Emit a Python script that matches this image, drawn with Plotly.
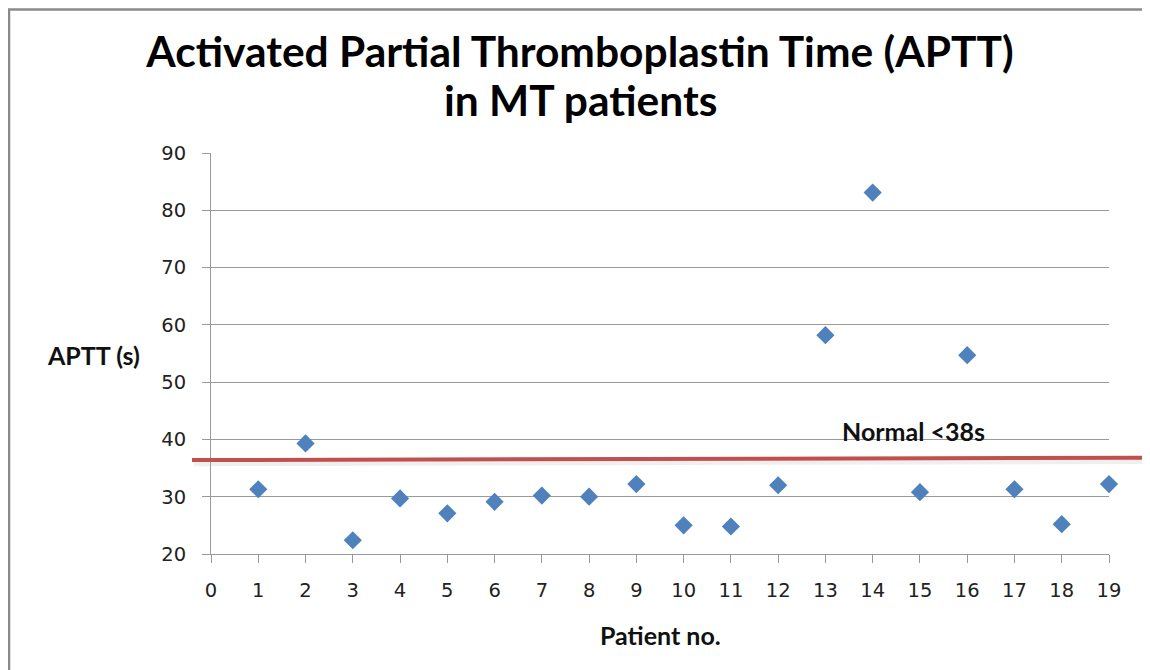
import plotly.graph_objects as go

patients = list(range(1, 20))
aptt = [31.3, 39.3, 22.4, 29.7, 27.1, 29.1, 30.2, 30.0, 32.2, 25.0,
        24.8, 32.0, 58.2, 83.1, 30.8, 54.7, 31.3, 25.2, 32.2]
normal_line = [36.4, 36.8]  # drawn reference line (left end, right end)
normal_label = "Normal <38s"
x_ticks = list(range(0, 20))
y_ticks = list(range(20, 91, 10))

title_line1 = "Activated Partial Thromboplastin Time (APTT)"
title_line2 = "in MT patients"

# the page body has an 8px margin, so work in screen px and subtract it
OFF = 8
W, H = 1150 - OFF, 670 - OFF
PL, PR, PT, PB = 211, 1109, 153, 554  # plot area in screen px
L, T = PL - OFF, PT - OFF
R, B = W - (PR - OFF), H - (PB - OFF)
pw, ph = PR - PL, PB - PT

def px_x(p):
    return (p - PL) / pw

def px_y(p):
    return (PB - p) / ph

fig = go.Figure()
fig.add_trace(go.Scatter(
    x=patients, y=aptt, mode="markers",
    marker=dict(symbol="diamond", size=14, color="#4F81BD"),
    cliponaxis=False, showlegend=False,
))

grid = "#9a9a9a"
tick_font = dict(family="DejaVu Sans", size=19.5, color="#222")
fig.update_xaxes(
    range=[0, 19], tickvals=x_ticks, showgrid=False,
    showline=True, linecolor=grid, linewidth=1,
    ticks="outside", ticklen=8, tickcolor=grid,
    tickfont=tick_font, ticklabelstandoff=11, zeroline=False,
)
fig.update_yaxes(
    range=[20, 90], tickvals=y_ticks, showgrid=True, gridcolor=grid, gridwidth=1,
    showline=True, linecolor=grid, linewidth=1,
    ticks="outside", ticklen=8, tickcolor=grid,
    tickfont=tick_font, ticklabelstandoff=12, zeroline=False,
)

shapes = [
    # outer chart border
    dict(type="rect", xref="paper", yref="paper",
         x0=px_x(9), x1=px_x(1148), y0=px_y(680), y1=px_y(9.5),
         line=dict(color="#8a8a8a", width=2.5), fillcolor="rgba(0,0,0,0)", layer="below"),
    # soft shadow of the normal line
    dict(type="line", xref="paper", yref="y",
         x0=px_x(194), x1=px_x(1150), y0=normal_line[0] - 0.55, y1=normal_line[1] - 0.55,
         line=dict(color="rgba(150,150,150,0.15)", width=6)),
    # normal line
    dict(type="line", xref="paper", yref="y",
         x0=px_x(192), x1=px_x(1150), y0=normal_line[0], y1=normal_line[1],
         line=dict(color="#C0504D", width=4)),
]

title_font = dict(family="Lato", size=42.5, color="#000", weight="bold")
lab_font = dict(family="Lato", size=25, color="#111", weight="bold")
annotations = [
    dict(text=title_line2, xref="paper", yref="paper", x=px_x(580), y=px_y(100),
         showarrow=False, xanchor="center", yanchor="middle", font=title_font),
    dict(text=normal_label, xref="paper", yref="paper", x=px_x(913), y=px_y(431),
         showarrow=False, xanchor="center", yanchor="middle", font=lab_font),
    dict(text="APTT (s)", xref="paper", yref="paper", x=px_x(45), y=px_y(355),
         showarrow=False, xanchor="left", yanchor="middle", font=lab_font),
    dict(text="Patient no.", xref="paper", yref="paper", x=px_x(660), y=px_y(635),
         showarrow=False, xanchor="center", yanchor="middle", font=lab_font),
]

fig.update_layout(
    width=W, height=H,
    margin=dict(l=L, r=R, t=T, b=B),
    paper_bgcolor="white", plot_bgcolor="white",
    title=dict(text=title_line1, x=(580 - OFF) / W, xanchor="center",
               y=1 - (52 - OFF) / H, yanchor="middle", font=title_font),
    shapes=shapes, annotations=annotations,
)

fig.write_html("out.html")
